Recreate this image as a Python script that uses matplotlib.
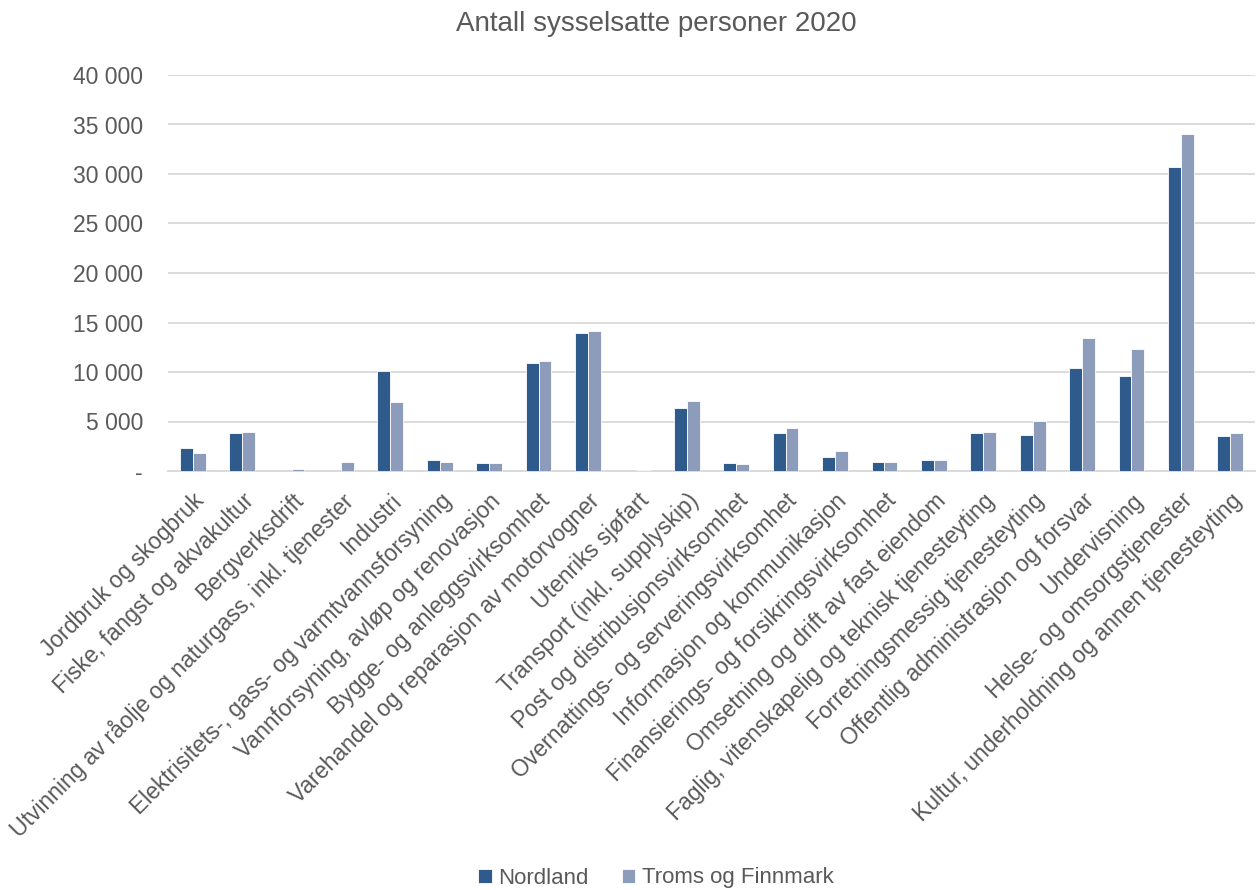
import matplotlib
matplotlib.use("Agg")
import matplotlib.pyplot as plt
import numpy as np
from matplotlib.ticker import FuncFormatter

categories = [
    "Jordbruk og skogbruk",
    "Fiske, fangst og akvakultur",
    "Bergverksdrift",
    "Utvinning av råolje og naturgass, inkl. tjenester",
    "Industri",
    "Elektrisitets-, gass- og varmtvannsforsyning",
    "Vannforsyning, avløp og renovasjon",
    "Bygge- og anleggsvirksomhet",
    "Varehandel og reparasjon av motorvogner",
    "Utenriks sjøfart",
    "Transport (inkl. supplyskip)",
    "Post og distribusjonsvirksomhet",
    "Overnattings- og serveringsvirksomhet",
    "Informasjon og kommunikasjon",
    "Finansierings- og forsikringsvirksomhet",
    "Omsetning og drift av fast eiendom",
    "Faglig, vitenskapelig og teknisk tjenesteyting",
    "Forretningsmessig tjenesteyting",
    "Offentlig administrasjon og forsvar",
    "Undervisning",
    "Helse- og omsorgstjenester",
    "Kultur, underholdning og annen tjenesteyting",
]
nordland = [2350, 3850, 0, 0, 10070, 1150, 850, 10880, 13970, 0, 6330, 780,
            3870, 1450, 880, 1150, 3870, 3670, 10440, 9560, 30700, 3540]
troms_finnmark = [1850, 3950, 240, 950, 6950, 950, 850, 11080, 14180, 130, 7070, 680,
                  4340, 2050, 880, 1150, 3950, 5050, 13430, 12360, 34070, 3840]
series_names = ["Nordland", "Troms og Finnmark"]
title = "Antall sysselsatte personer 2020"

plt.rcParams['font.family'] = ['Liberation Sans', 'DejaVu Sans']
dark = "#2E5A8C"
light = "#8E9CBC"
txt = "#595959"

fig = plt.figure(figsize=(12.58, 8.90), dpi=100)
ax = fig.add_axes([168/1258, 1-471/890, (1255-168)/1258, (471-75)/890])

x = np.arange(len(categories))
w = 0.26
ax.bar(x - w/2, nordland, w, color=dark, edgecolor="white", linewidth=0.6, label=series_names[0], zorder=3)
ax.bar(x + w/2, troms_finnmark, w, color=light, edgecolor="white", linewidth=0.6, label=series_names[1], zorder=3)

ax.set_xlim(-0.5, len(categories)-0.5)
ax.set_ylim(0, 40000)
ax.set_yticks(np.arange(0, 40001, 5000))
ax.yaxis.set_major_formatter(FuncFormatter(lambda v, p: "-" if v == 0 else f"{int(v):,}".replace(",", " ")))
ax.grid(axis="y", color="#d9d9d9", linewidth=1.3, zorder=0)
for s in ["top", "right", "left"]:
    ax.spines[s].set_visible(False)
ax.spines["bottom"].set_color("#d9d9d9")
ax.spines["bottom"].set_linewidth(1.3)
ax.tick_params(axis="y", length=0, pad=18, labelsize=16.5, labelcolor=txt)
ax.tick_params(axis="x", length=0, pad=13, labelsize=16.5, labelcolor=txt)
ax.set_xticks(x)
ax.set_xticklabels(categories, rotation=45, ha="right", va="top", rotation_mode="anchor")

fig.text(656/1258, 1-24/890, title, ha="center", va="center", fontsize=20, color=txt)

leg = fig.legend(loc="center", bbox_to_anchor=(656/1258, 1-878/890), ncol=2, frameon=False,
                 fontsize=16, handlelength=0.6, handleheight=0.6, handletextpad=0.3, columnspacing=1.5)
for t in leg.get_texts():
    t.set_color(txt)

fig.savefig("out.png", dpi=100)
